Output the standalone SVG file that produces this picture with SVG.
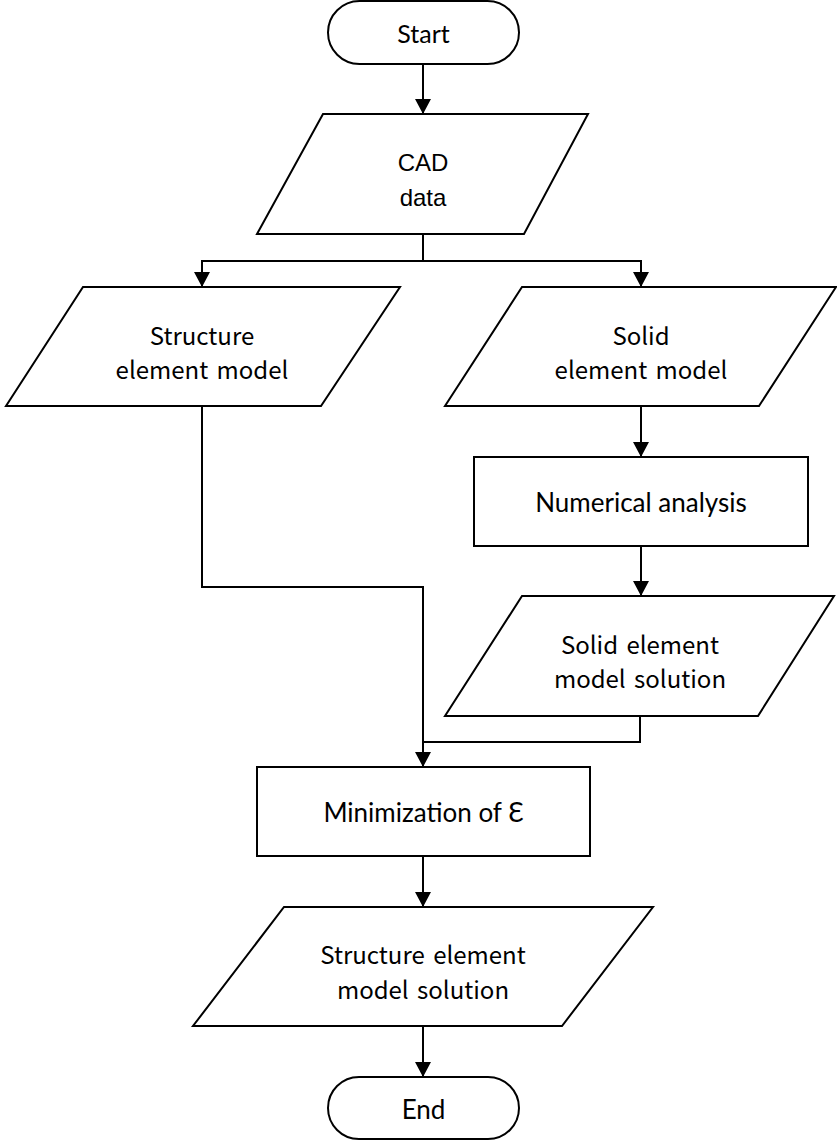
<svg xmlns="http://www.w3.org/2000/svg" width="837" height="1142" viewBox="0 0 837 1142">
<style>
.shape{fill:#fff;stroke:#000;stroke-width:2}
.conn{fill:none;stroke:#000;stroke-width:2}
.t{fill:#000;text-anchor:middle;dominant-baseline:central}
.lato{font-family:Lato,"Liberation Sans",sans-serif;font-size:26px}
.arial{font-family:"Liberation Sans",Arial,sans-serif;font-size:24px}
.jp{font-family:"Noto Sans CJK JP","Noto Sans",sans-serif;font-size:24px;word-spacing:3px}
</style>
<defs>
<marker id="arr" markerUnits="userSpaceOnUse" markerWidth="16" markerHeight="16" viewBox="0 0 16 16" refX="15" refY="8" orient="auto">
<path d="M0,0 L15,8 L0,16 Z" fill="#000"/>
</marker>
</defs>
<rect width="837" height="1142" fill="#fff"/>
<g id="connectors">
<line class="conn" x1="423" y1="64" x2="423" y2="114" marker-end="url(#arr)"/>
<line class="conn" x1="423" y1="234" x2="423" y2="261"/>
<polyline class="conn" points="202,287 202,261 641,261 641,287"/>
<line class="conn" x1="202" y1="262" x2="202" y2="287" marker-end="url(#arr)"/>
<line class="conn" x1="641" y1="262" x2="641" y2="287" marker-end="url(#arr)"/>
<polyline class="conn" points="202,406 202,587 423,587 423,767" marker-end="url(#arr)"/>
<line class="conn" x1="641" y1="406" x2="641" y2="457" marker-end="url(#arr)"/>
<line class="conn" x1="641" y1="546" x2="641" y2="596" marker-end="url(#arr)"/>
<polyline class="conn" points="640,716 640,742 423,742"/>
<line class="conn" x1="423" y1="856" x2="423" y2="907" marker-end="url(#arr)"/>
<line class="conn" x1="423" y1="1026" x2="423" y2="1077" marker-end="url(#arr)"/>
</g>
<g id="start">
<rect class="shape" x="328" y="1" width="191" height="63" rx="31.5"/>
<text class="t lato" x="423.5" y="33" style="font-size:25px">Start</text>
</g>
<g id="cad">
<polygon class="shape" points="323,114 588,114 524,234 257,234"/>
<text class="t arial" x="423" y="162">CAD</text>
<text class="t arial" x="423" y="197">data</text>
</g>
<g id="structure-model">
<polygon class="shape" points="83,287 400,287 321,406 6,406"/>
<text class="t jp" x="202" y="334">Structure</text>
<text class="t jp" x="202" y="368">element model</text>
</g>
<g id="solid-model">
<polygon class="shape" points="522,287 836,287 759,406 445,406"/>
<text class="t jp" x="641" y="334">Solid</text>
<text class="t jp" x="641" y="368">element model</text>
</g>
<g id="numerical">
<rect class="shape" x="474" y="457" width="334" height="89"/>
<text class="t lato" x="641" y="502">Numerical analysis</text>
</g>
<g id="solid-solution">
<polygon class="shape" points="522,596 834,596 758,716 445,716"/>
<text class="t jp" x="640" y="643">Solid element</text>
<text class="t jp" x="640" y="677">model solution</text>
</g>
<g id="minimization">
<rect class="shape" x="257" y="767" width="333" height="89"/>
<text class="t lato" x="423.5" y="812">Minimization of Ɛ</text>
</g>
<g id="structure-solution">
<polygon class="shape" points="284,907 653,907 562,1026 193,1026"/>
<text class="t jp" x="423" y="953">Structure element</text>
<text class="t jp" x="423" y="988">model solution</text>
</g>
<g id="end">
<rect class="shape" x="328" y="1077" width="191" height="62" rx="31"/>
<text class="t lato" x="423.5" y="1109">End</text>
</g>
</svg>
